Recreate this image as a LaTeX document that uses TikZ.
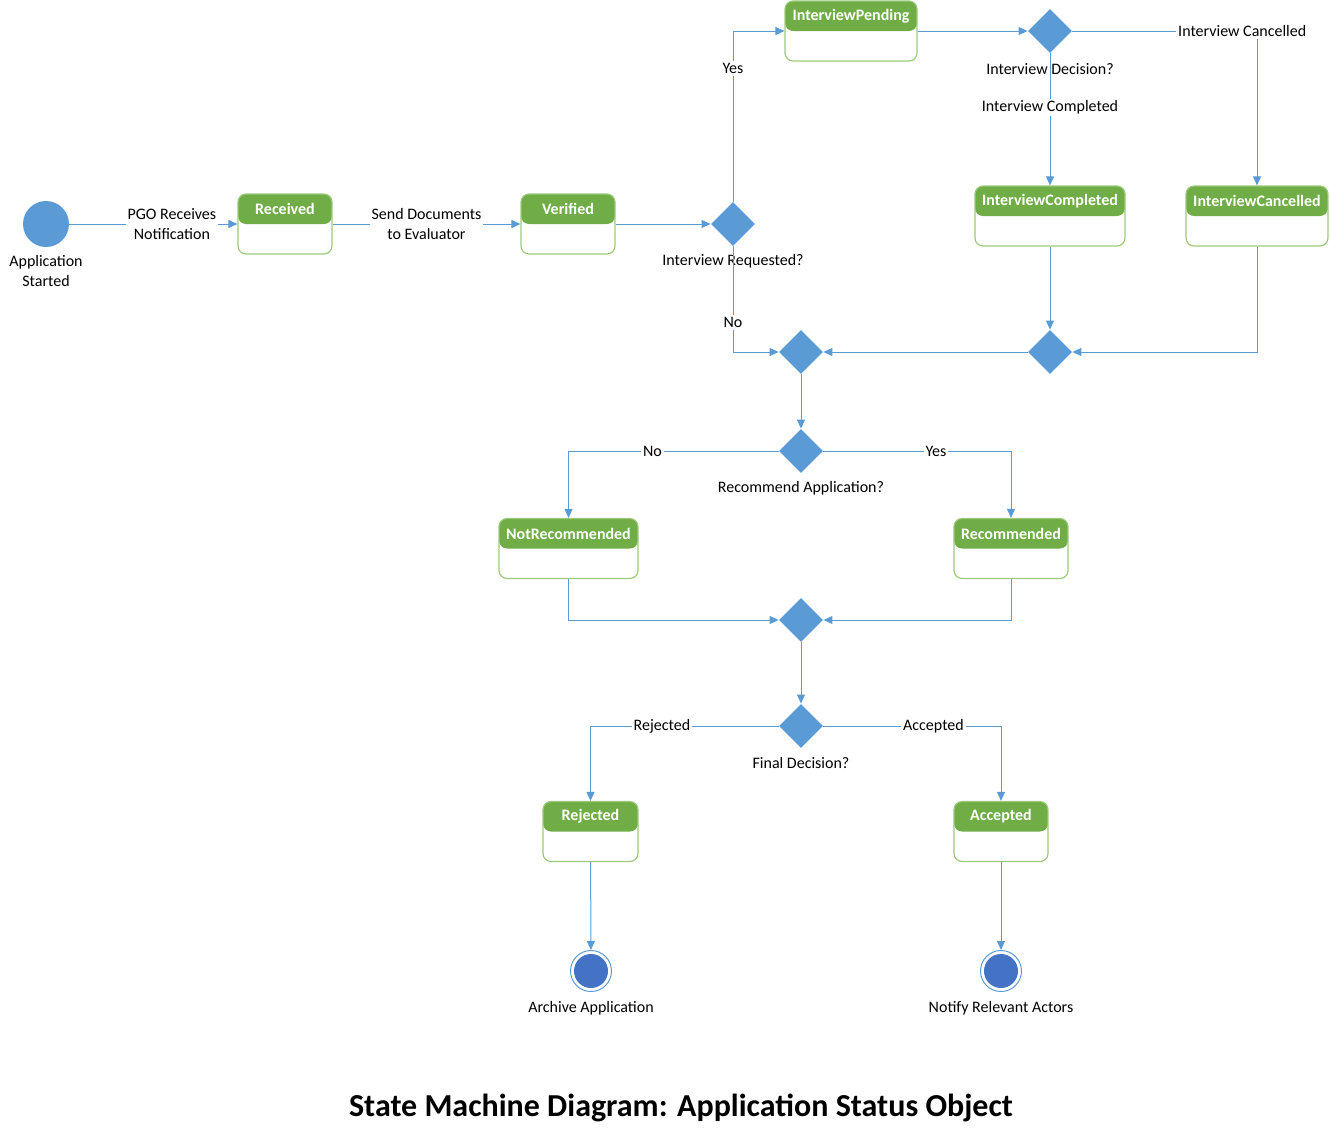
\documentclass[tikz,border=0pt]{standalone}
\usepackage{fontspec}
\setmainfont{Carlito}
\usepackage{xcolor}
\usetikzlibrary{positioning,shapes.geometric,arrows.meta}
\definecolor{lineblue}{HTML}{5B9BD5}
\definecolor{hdrgreen}{HTML}{70AD47}
\definecolor{boxgreen}{HTML}{9BCB7A}
\definecolor{endblue}{HTML}{4472C4}
\newcommand{\smallfont}{\fontsize{8}{10}\selectfont}
\tikzset{
  state/.style 2 args={draw=boxgreen, line width=0.6pt, rounded corners=4pt,
    minimum width=#1, minimum height=30pt, inner sep=0pt,
    path picture={
      \fill[hdrgreen] (path picture bounding box.north west) rectangle (path picture bounding box.east);
      \node[text=white, font=\smallfont\bfseries] at ([yshift=-7.5pt]path picture bounding box.north) {#2};
    }},
  choice/.style={diamond, fill=lineblue, minimum size=22pt, inner sep=0pt},
  startdot/.style={circle, fill=lineblue, minimum size=23pt, inner sep=0pt},
  enddot/.style={circle, draw=lineblue, line width=0.5pt, fill=white, minimum size=20.5pt, inner sep=0pt,
    path picture={\fill[endblue] (path picture bounding box.center) circle (8.5pt);}},
  conn/.style={draw=lineblue, line width=0.5pt, ->},
  elbl/.style={fill=white, inner sep=1pt, font=\smallfont, align=center},
  txt/.style={inner sep=0pt, font=\smallfont, align=center}
}
\begin{document}
\begin{tikzpicture}[x=0.5pt, y=-0.5pt, >={Triangle[length=4.5pt,width=4pt]}]
\useasboundingbox (0,0) rectangle (1330,1142);
% states
\node[startdot] (start) at (46,224) {};
\node[txt] (startlbl) at (46,271) {Application\\Started};
\node[state={47pt}{Received}] (received) at (285,224) {};
\node[state={47pt}{Verified}] (verified) at (568,224) {};
\node[choice] (askint) at (733,224) {};
\node[txt] (askintlbl) at (733,261) {Interview Requested?};
\node[state={66pt}{InterviewPending}] (pending) at (851,31) {};
\node[choice] (intdec) at (1050,31) {};
\node[txt] (intdeclbl) at (1050,69) {Interview Decision?};
\node[state={75pt}{InterviewCompleted}] (completed) at (1050,216) {};
\node[state={71pt}{InterviewCancelled}] (cancelled) at (1257,216) {};
\node[choice] (mergeint) at (1050,352) {};
\node[choice] (mergeall) at (801,352) {};
\node[choice] (askrec) at (801,451) {};
\node[txt] (askreclbl) at (801,488) {Recommend Application?};
\node[state={69.5pt}{NotRecommended}] (notrec) at (568.5,548.5) {};
\node[state={57pt}{Recommended}] (rec) at (1011,548.5) {};
\node[choice] (mergerec) at (801,620) {};
\node[choice] (final) at (801,726) {};
\node[txt] (finallbl) at (801,763) {Final Decision?};
\node[state={47.5pt}{Rejected}] (rejected) at (590.5,831.5) {};
\node[state={47pt}{Accepted}] (accepted) at (1001,831.5) {};
\node[enddot] (archive) at (591,971) {};
\node[txt] (archivelbl) at (591,1008) {Archive Application};
\node[enddot] (notify) at (1001,971) {};
\node[txt] (notifylbl) at (1001,1008) {Notify Relevant Actors};
\node[font=\fontsize{16}{19}\selectfont\bfseries] (title) at (681,1108) {State Machine Diagram: Application Status Object};
% transitions
\draw[conn] (start) -- node[elbl, pos=0.61]{PGO Receives\\Notification} (received);
\draw[conn] (received) -- node[elbl]{Send Documents\\to Evaluator} (verified);
\draw[conn] (verified) -- (askint);
\draw[conn] (askint.north) |- node[elbl, pos=0.39]{Yes} (pending.west);
\draw[conn] (askint.south) |- node[elbl, pos=0.36]{No} (mergeall.west);
\draw[conn] (pending) -- (intdec);
\draw[conn] (intdec.east) -| node[elbl, pos=0.46]{Interview Cancelled} (cancelled.north);
\draw[conn] (intdec.south) -- node[elbl, pos=0.41]{Interview Completed} (completed.north);
\draw[conn] (completed.south) -- (mergeint.north);
\draw[conn] (cancelled.south) |- (mergeint.east);
\draw[conn] (mergeint) -- (mergeall);
\draw[conn] (mergeall) -- (askrec);
\draw[conn] (askrec.west) -| node[elbl, pos=0.3]{No} (notrec.north);
\draw[conn] (askrec.east) -| node[elbl, pos=0.3]{Yes} (rec.north);
\draw[conn] (notrec.south) |- (mergerec.west);
\draw[conn] (rec.south) |- (mergerec.east);
\draw[conn] (mergerec) -- (final);
\draw[conn] (final.west) -| node[elbl, pos=0.31]{Rejected} (rejected.north);
\draw[conn] (final.east) -| node[elbl, pos=0.31]{Accepted} (accepted.north);
\draw[conn] (rejected) -- (archive);
\draw[conn] (accepted) -- (notify);
\end{tikzpicture}
\end{document}
